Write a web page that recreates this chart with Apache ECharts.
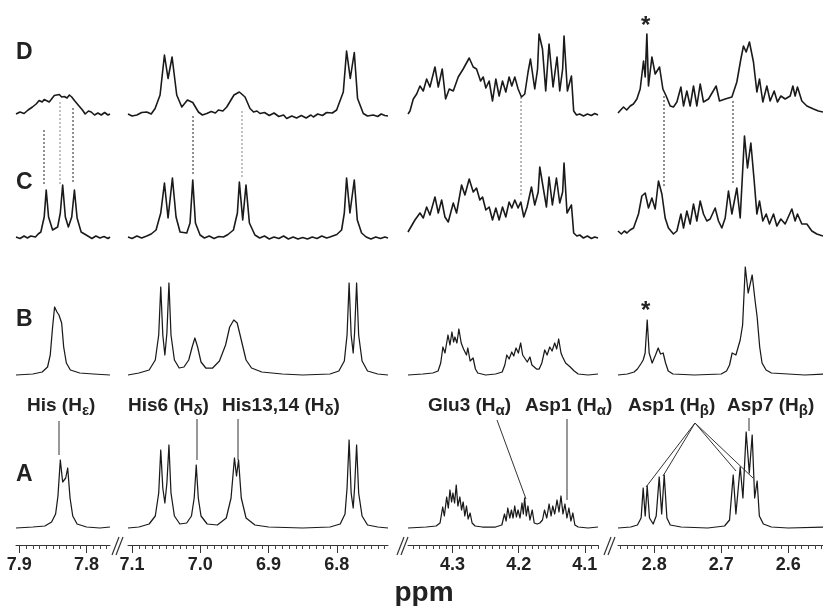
<!DOCTYPE html>
<html><head><meta charset="utf-8">
<script src="https://cdn.jsdelivr.net/npm/echarts@6/dist/echarts.min.js"></script>
<style>html,body{margin:0;padding:0;background:#fff}#c{width:823px;height:606px}</style>
</head><body><div id="c"></div>
<script>
// ---------- data (ppm, intensity above baseline) ----------
const traceNames = ['D', 'C', 'B', 'A'];
const tickLabels1 = [7.9, 7.8];
const tickLabels2 = [7.1, 7.0, 6.9, 6.8];
const tickLabels3 = [4.3, 4.2, 4.1];
const tickLabels4 = [2.8, 2.7, 2.6];

const D1 = [[7.905,0],[7.899,2],[7.893,0.5],[7.887,4],[7.8805,7],[7.875,10],[7.8705,13.5],[7.866,12],[7.863,14.5],[7.8555,12],[7.852,15],[7.848,18.5],[7.8405,19.5],[7.837,17],[7.833,17.5],[7.829,16],[7.8255,19],[7.822,17],[7.818,13.5],[7.8105,7.5],[7.806,4],[7.802,0],[7.797,3],[7.793,2],[7.788,-1],[7.783,1],[7.778,-1],[7.773,1.5],[7.768,-1],[7.765,0]];
const D2 = [[7.106,0],[7.100,-2],[7.093,-1],[7.086,1.5],[7.0785,2],[7.072,0],[7.0663,5.5],[7.059,19],[7.0526,59],[7.0473,35.5],[7.0414,57],[7.0346,19],[7.0272,7],[7.0189,14],[7.0111,11.5],[7.0028,2],[6.997,-1],[6.9906,0.5],[6.984,2.5],[6.978,1],[6.9735,4],[6.967,3],[6.9613,7],[6.9507,19],[6.9428,22],[6.9345,17],[6.9272,5.5],[6.922,2],[6.917,3],[6.9126,0.5],[6.906,1.5],[6.899,-1.5],[6.892,1],[6.885,-2.5],[6.878,-1],[6.8735,-4.5],[6.866,-2],[6.859,-4],[6.852,-1.5],[6.845,-4],[6.838,-1],[6.8344,-3],[6.828,0],[6.821,-1.5],[6.815,1.5],[6.8065,1],[6.8003,4],[6.7905,22],[6.7857,63],[6.7803,35.5],[6.7744,61.5],[6.7696,15.5],[6.7612,0.5],[6.755,-2],[6.7466,-1],[6.740,-2.5],[6.735,0],[6.7296,-1.5],[6.725,-2]];
const D3 = [[4.3675,0],[4.3645,3],[4.3595,15],[4.3544,20],[4.3494,28],[4.3444,23],[4.3393,35],[4.3343,27],[4.3267,47],[4.3217,27],[4.3157,45],[4.3106,15],[4.3051,25],[4.299,23],[4.2915,37],[4.284,45],[4.2749,56],[4.2688,47],[4.2638,45],[4.2577,33],[4.2537,37],[4.2497,26],[4.2447,33],[4.2396,13],[4.2346,35],[4.2296,18],[4.2245,33],[4.2195,22],[4.2145,37],[4.2104,28],[4.2059,37],[4.2009,25],[4.1958,17],[4.1908,20],[4.1858,42],[4.1822,55],[4.1757,25],[4.1715,45],[4.1692,80],[4.164,65],[4.1591,23],[4.1541,70],[4.148,27],[4.142,57],[4.1379,23],[4.1335,45],[4.1314,78],[4.1263,23],[4.1202,38],[4.1168,3],[4.1125,-1],[4.1077,0],[4.102,-2],[4.096,0],[4.09,-1.5],[4.085,0.5],[4.08,-1]];
const D4 = [[2.854,1],[2.85,4],[2.8458,7],[2.841,4],[2.8358,8],[2.831,10],[2.8258,15],[2.8209,25],[2.8159,53],[2.8134,37],[2.8109,80],[2.8085,28],[2.8034,57],[2.7985,40],[2.792,47],[2.787,25],[2.7821,18],[2.7761,8],[2.7712,7],[2.7661,12],[2.7601,27],[2.7562,8],[2.7512,23],[2.7463,8],[2.7413,28],[2.7363,8],[2.7313,30],[2.7264,12],[2.7189,15],[2.7075,28],[2.7025,13],[2.694,15],[2.684,17],[2.6766,32],[2.6706,55],[2.6667,68],[2.6627,62],[2.6578,72],[2.6518,52],[2.6467,22],[2.6428,35],[2.6378,12],[2.6318,28],[2.6269,13],[2.6209,23],[2.616,12],[2.6109,18],[2.6045,15],[2.597,18],[2.593,28],[2.5896,18],[2.5861,27],[2.5796,13],[2.5721,8],[2.5622,5],[2.5548,3],[2.548,2]];

const C1 = [[7.905,0],[7.899,-1.5],[7.893,1],[7.888,-1],[7.883,1],[7.876,0],[7.872,3],[7.868,5],[7.863,20],[7.86,47],[7.8565,20],[7.8505,7],[7.843,10],[7.839,24],[7.8355,52],[7.8315,20],[7.827,10],[7.822,20],[7.818,47],[7.814,19],[7.808,5],[7.798,1],[7.792,-1.5],[7.786,1],[7.780,-1],[7.774,0.5],[7.768,-1.5],[7.765,0]];
const C2 = [[7.106,0],[7.10,-1.5],[7.093,1],[7.086,-1],[7.0785,1],[7.072,3],[7.0649,7],[7.058,24],[7.0526,54],[7.0473,19],[7.0409,59],[7.0356,20],[7.0297,5],[7.0199,4],[7.0151,14],[7.0111,57],[7.0072,14],[7.0004,2],[6.994,-1],[6.987,1],[6.980,-1.5],[6.973,0.5],[6.9662,0],[6.9595,2.5],[6.9515,7],[6.9457,24],[6.9428,55],[6.9379,17],[6.9331,52],[6.9281,14],[6.92,2],[6.913,-1],[6.906,1],[6.899,-2],[6.892,0],[6.885,-1.5],[6.878,1],[6.871,-2],[6.864,0],[6.857,-2],[6.85,-0.5],[6.843,-2],[6.836,0],[6.829,-1.5],[6.822,1],[6.815,-1],[6.8101,0],[6.80,2.5],[6.793,7],[6.789,24],[6.7857,59],[6.7808,24],[6.7744,57],[6.77,17],[6.7637,4],[6.757,0],[6.75,-2],[6.743,0],[6.736,-1.5],[6.7296,0],[6.725,-1]];
const C3 = [[4.3675,5],[4.3645,7],[4.357,17],[4.3494,24],[4.3444,19],[4.3393,30],[4.3343,22],[4.3267,40],[4.3217,24],[4.3166,37],[4.3116,20],[4.3066,15],[4.299,34],[4.294,24],[4.2864,52],[4.2814,42],[4.2749,58],[4.2688,45],[4.2638,49],[4.2588,37],[4.2547,40],[4.2497,27],[4.2447,30],[4.2396,17],[4.2346,29],[4.2296,17],[4.2245,30],[4.2195,20],[4.2145,35],[4.2104,29],[4.2059,37],[4.2009,29],[4.1968,35],[4.1923,20],[4.1873,30],[4.1807,50],[4.1757,32],[4.1705,45],[4.1681,70],[4.1631,50],[4.158,30],[4.1541,60],[4.149,32],[4.1429,59],[4.1379,34],[4.1335,45],[4.1314,74],[4.1269,24],[4.1202,32],[4.1168,4],[4.112,1],[4.1077,2],[4.102,-1],[4.096,1],[4.09,-1.5],[4.085,0],[4.08,-1]];
const C4 = [[2.854,6],[2.849,3],[2.8445,6],[2.8407,4],[2.836,7],[2.8308,9],[2.8234,23],[2.8184,41],[2.8134,44],[2.8085,29],[2.8034,39],[2.7985,28],[2.7936,56],[2.7885,43],[2.7836,19],[2.7787,9],[2.7712,3],[2.7661,6],[2.7601,23],[2.7562,9],[2.7512,26],[2.7463,13],[2.7413,33],[2.7363,16],[2.7313,36],[2.7264,23],[2.7214,16],[2.7164,18],[2.709,29],[2.704,16],[2.699,9],[2.694,19],[2.6891,46],[2.684,23],[2.6766,49],[2.6716,19],[2.6652,101],[2.6607,69],[2.6557,94],[2.6507,56],[2.6467,23],[2.6428,36],[2.6378,16],[2.6328,23],[2.6279,13],[2.6219,23],[2.6169,11],[2.6109,18],[2.6045,13],[2.5945,28],[2.5896,16],[2.5861,23],[2.5796,13],[2.5721,13],[2.5647,6],[2.5572,3],[2.548,1]];

const B1 = [[7.905,0],[7.88,1],[7.866,3],[7.858,8],[7.854,20],[7.8505,48],[7.8475,68],[7.844,63],[7.841,60],[7.837,52],[7.834,28],[7.830,12],[7.824,5],[7.81,2],[7.79,1],[7.765,0]];
const B2 = [[7.106,0],[7.09,2],[7.075,5],[7.066,15],[7.061,40],[7.058,88],[7.055,40],[7.052,20],[7.049,42],[7.046,92],[7.043,40],[7.038,15],[7.031,7],[7.024,8],[7.017,15],[7.012,28],[7.008,37],[7.004,28],[6.999,13],[6.992,7],[6.982,7],[6.972,14],[6.963,30],[6.957,48],[6.951,55],[6.946,52],[6.940,35],[6.933,15],[6.925,7],[6.91,3],[6.88,1],[6.85,0],[6.81,1],[6.797,4],[6.789,14],[6.785,40],[6.782,92],[6.779,40],[6.776,22],[6.774,42],[6.771,92],[6.768,40],[6.763,14],[6.755,4],[6.74,1],[6.725,0]];
const B3 = [[4.3675,0],[4.345,1],[4.33,2],[4.322,4],[4.318,12],[4.3147,28],[4.3115,22],[4.309,32],[4.307,40],[4.304,30],[4.301,43],[4.2985,33],[4.2965,38],[4.2935,32],[4.2905,46],[4.287,32],[4.2835,26],[4.2815,28],[4.279,20],[4.277,27],[4.2735,14],[4.269,17],[4.2655,6],[4.262,2],[4.25,0],[4.235,1],[4.225,3],[4.221,10],[4.218,20],[4.2145,16],[4.2105,23],[4.2075,19],[4.204,27],[4.2005,22],[4.197,32],[4.194,20],[4.191,18],[4.187,13],[4.183,18],[4.18,10],[4.177,12],[4.173,6],[4.169,6],[4.165,12],[4.1606,25],[4.157,20],[4.153,28],[4.1495,24],[4.1455,32],[4.1425,26],[4.1395,36],[4.136,22],[4.1335,18],[4.129,12],[4.126,11],[4.122,8],[4.12,10],[4.116,4],[4.11,1],[4.095,0],[4.08,1]];
const B4 = [[2.854,0],[2.84,1],[2.83,3],[2.825,6],[2.82,11],[2.8164,15],[2.8135,22],[2.8104,55],[2.8075,22],[2.803,12],[2.798,20],[2.794,27],[2.7905,21],[2.7866,22],[2.783,12],[2.779,4],[2.772,1],[2.74,0],[2.70,1],[2.692,4],[2.6875,10],[2.6836,22],[2.678,20],[2.6716,35],[2.668,50],[2.664,108],[2.6597,82],[2.6537,100],[2.6495,75],[2.6463,58],[2.6425,28],[2.639,12],[2.633,5],[2.625,2],[2.60,1],[2.575,0],[2.548,1]];

const A1 = [[7.905,0],[7.88,1],[7.862,2],[7.852,6],[7.846,14],[7.8425,32],[7.839,68],[7.8355,46],[7.8335,44],[7.831,50],[7.828,60],[7.8245,30],[7.8205,12],[7.814,4],[7.80,1],[7.78,0],[7.765,1]];
const A2 = [[7.106,0],[7.09,1],[7.075,4],[7.066,12],[7.061,35],[7.058,78],[7.055,40],[7.052,25],[7.049,45],[7.046,83],[7.043,35],[7.038,12],[7.03,4],[7.02,5],[7.013,12],[7.009,30],[7.006,63],[7.003,30],[6.999,12],[6.99,4],[6.975,3],[6.962,10],[6.955,30],[6.950,70],[6.947,52],[6.944,68],[6.940,30],[6.933,10],[6.92,3],[6.90,1],[6.85,0],[6.81,1],[6.795,4],[6.788,14],[6.785,40],[6.782,88],[6.779,35],[6.776,20],[6.774,40],[6.771,83],[6.768,35],[6.763,12],[6.755,3],[6.74,1],[6.725,0]];
const A3 = [[4.3675,0],[4.34,1],[4.325,2],[4.319,5],[4.315,21],[4.3125,12],[4.309,31],[4.3065,20],[4.304,38],[4.3015,26],[4.2995,35],[4.297,25],[4.2945,43],[4.292,22],[4.289,31],[4.2865,18],[4.284,26],[4.2815,12],[4.279,22],[4.2765,9],[4.2735,15],[4.2705,5],[4.266,2],[4.255,1],[4.235,1],[4.2255,3],[4.2215,14],[4.219,7],[4.2165,20],[4.2135,10],[4.211,18],[4.2085,10],[4.206,22],[4.2035,11],[4.201,18],[4.198,10],[4.195,25],[4.193,14],[4.191,30],[4.1885,12],[4.186,22],[4.183,8],[4.1795,18],[4.1765,5],[4.172,4],[4.168,5],[4.164,8],[4.161,18],[4.1575,10],[4.154,24],[4.151,12],[4.1485,22],[4.1455,14],[4.142,28],[4.139,16],[4.136,32],[4.133,14],[4.130,24],[4.127,10],[4.124,20],[4.121,7],[4.118,15],[4.115,3],[4.11,1],[4.095,0],[4.08,1]];
const A4 = [[2.854,0],[2.835,1],[2.825,3],[2.8195,10],[2.8164,40],[2.8134,12],[2.8104,42],[2.807,10],[2.8015,4],[2.797,12],[2.7925,51],[2.7888,14],[2.785,53],[2.781,10],[2.776,3],[2.76,1],[2.72,0],[2.695,2],[2.6875,8],[2.682,53],[2.678,14],[2.6716,61],[2.6675,30],[2.6627,96],[2.658,55],[2.6537,93],[2.650,30],[2.6463,47],[2.643,12],[2.637,4],[2.625,1],[2.60,0],[2.548,1]];

// ---------- layout ----------
const rows = [
  {base: 114, data: [D1, D2, D3, D4], lw: 1.6},
  {base: 237, data: [C1, C2, C3, C4], lw: 1.6},
  {base: 375, data: [B1, B2, B3, B4], lw: 1.25},
  {base: 528, data: [A1, A2, A3, A4], lw: 1.25}
];
const cols = [
  {left: 16, width: 94, min: 7.765, max: 7.905, labels: tickLabels1},
  {left: 128, width: 260, min: 6.725, max: 7.106, labels: tickLabels2},
  {left: 408, width: 190, min: 4.08, max: 4.3675, labels: tickLabels3},
  {left: 618, width: 205, min: 2.548, max: 2.854, labels: tickLabels4}
];
const INK = '#1a1a1a';
const FONT = '"Liberation Sans", Arial, sans-serif';

function minorTicks(c) {
  const out = [];
  for (let k = Math.ceil(c.min * 100 - 1e-6); k <= Math.floor(c.max * 100 + 1e-6); k++) out.push(+(k / 100).toFixed(2));
  return out;
}

const grid = [], xAxis = [], yAxis = [], series = [];
rows.forEach((r, ri) => {
  const isA = ri === 3;
  cols.forEach((c, ci) => {
    const gi = grid.length;
    const ymin = isA ? -17 : -10, ymax = 110;
    grid.push({left: c.left, width: c.width, top: r.base - ymax, height: ymax - ymin, containLabel: false});
    xAxis.push({
      gridIndex: gi, type: 'value', min: c.min, max: c.max, inverse: true, show: isA,
      axisLine: {show: isA, onZero: false, lineStyle: {color: '#333', width: 1}},
      axisTick: {show: isA, customValues: minorTicks(c), length: 4, lineStyle: {color: '#444', width: 1}},
      axisLabel: {show: isA, customValues: c.labels, formatter: v => v.toFixed(1), margin: 11,
        fontSize: 18, fontWeight: 'bold', color: '#222', fontFamily: FONT},
      splitLine: {show: false}
    });
    yAxis.push({gridIndex: gi, type: 'value', min: ymin, max: ymax, show: false});
    series.push({type: 'line', xAxisIndex: gi, yAxisIndex: gi, data: r.data[ci], showSymbol: false,
      silent: true, animation: false, lineStyle: {color: INK, width: r.lw, join: 'round'}, clip: false});
  });
});
// major ticks (separate overlay grids)
cols.forEach(c => {
  const gi = grid.length;
  grid.push({left: c.left, width: c.width, top: 528 - 110, height: 127});
  xAxis.push({gridIndex: gi, type: 'value', min: c.min, max: c.max, inverse: true,
    axisLine: {show: false, onZero: false},
    axisTick: {show: true, customValues: c.labels, length: 8, lineStyle: {color: '#333', width: 1}},
    axisLabel: {show: false}, splitLine: {show: false}});
  yAxis.push({gridIndex: gi, type: 'value', min: -17, max: 110, show: false});
});

// ---------- annotations ----------
const cv = document.createElement('canvas').getContext('2d');
function tw(t, size) { cv.font = 'bold ' + size + 'px ' + FONT; return cv.measureText(t).width; }
const graphic = [];
function txt(x, y, t, size, extra) {
  graphic.push(Object.assign({type: 'text', x: x, y: y, silent: true,
    style: {text: t, fill: '#222', font: 'bold ' + size + 'px ' + FONT, align: 'left', verticalAlign: 'middle'}}, extra || {}));
}
function line(x1, y1, x2, y2, color, dash, w) {
  graphic.push({type: 'line', silent: true, shape: {x1, y1, x2, y2},
    style: {stroke: color || '#333', lineWidth: w || 1, lineDash: dash || null}});
}
// row letters
[['D', 53], ['C', 183], ['B', 320], ['A', 475]].forEach(([t, y]) => txt(16, y, t, 23));
// peak assignment labels
const assign = [
  ['His (H', 'ε', ')', 27], ['His6 (H', 'δ', ')', 128], ['His13,14 (H', 'δ', ')', 222],
  ['Glu3 (H', 'α', ')', 428], ['Asp1 (H', 'α', ')', 525], ['Asp1 (H', 'β', ')', 628], ['Asp7 (H', 'β', ')', 727]
];
assign.forEach(([pre, sub, post, x]) => {
  const y = 406, S = 19, s2 = 15;
  const w1 = tw(pre, S), w2 = tw(sub, s2);
  txt(x, y, pre, S);
  txt(x + w1, y + 5, sub, s2);
  txt(x + w1 + w2, y, post, S);
});
// leader lines
line(59, 421, 59, 455);
line(197, 419, 197, 460);
line(238, 419, 238, 460);
line(497, 420, 526, 499);
line(567, 419, 567, 500);
line(695, 423, 646, 487); line(695, 423, 663, 476);
line(695, 423, 736, 471); line(695, 423, 753, 478);
line(749, 418, 749, 431);
// dotted correlation lines between D and C
line(44, 130, 44, 185, '#222', [2, 2]);
line(60, 102, 60, 185, '#888', [2, 2]);
line(73, 108, 73, 183, '#222', [2, 2]);
line(193, 116, 193, 174, '#222', [2, 2]);
line(242, 111, 242, 178, '#888', [2, 2]);
line(521, 97, 521, 197, '#777', [2, 2]);
line(664, 96, 664, 188, '#222', [2, 2]);
line(733, 101, 733, 185, '#222', [2, 2]);
// asterisks
txt(641, 311, '*', 24);
txt(641, 26, '*', 24);
// axis breaks
[118, 403, 610].forEach(cx => {
  line(cx - 6, 555, cx + 1, 537, '#333', null, 1.2);
  line(cx - 2, 555, cx + 5, 537, '#333', null, 1.2);
});
// axis title
graphic.push({type: 'text', x: 424, y: 593, silent: true,
  style: {text: 'ppm', fill: '#222', font: 'bold 28px ' + FONT, align: 'center', verticalAlign: 'middle'}});

const chart = echarts.init(document.getElementById('c'), null, {renderer: 'canvas'});
chart.setOption({animation: false, backgroundColor: '#fff', grid, xAxis, yAxis, series, graphic});
</script></body></html>
